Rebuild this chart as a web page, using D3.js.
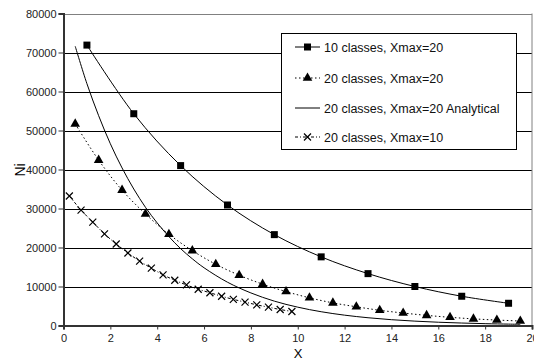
<!DOCTYPE html>
<html><head><meta charset="utf-8">
<script src="https://cdn.jsdelivr.net/npm/d3@7"></script>
<style>body{margin:0;background:#fff}svg{display:block;font-family:"Liberation Sans",Arial,sans-serif}</style>
</head><body><svg id="c" width="534" height="360"></svg>
<script>
const seriesNames = ["10 classes, Xmax=20","20 classes, Xmax=20","20 classes, Xmax=20 Analytical","20 classes, Xmax=10"];
const xs10 = [1,3,5,7,9,11,13,15,17,19];
const ys10 = [71900,54300,41000,30900,23300,17600,13300,10000,7500,5700];
const xs20 = [0.5,1.5,2.5,3.5,4.5,5.5,6.5,7.5,8.5,9.5,10.5,11.5,12.5,13.5,14.5,15.5,16.5,17.5,18.5,19.5];
const ys20 = [51700,42400,34700,28600,23400,19200,15700,12900,10600,8700,7100,5800,4800,3900,3200,2600,2100,1700,1400,1150];
const xsAn = [0.5,1,1.5,2,2.5,3,3.5,4,4.5,5,5.5,6,7,8,9,10,11,12,13,14,15,16,17,18,19,19.5];
const ysAn = [71600,62000,53800,46600,40400,35000,30300,26300,22800,19700,17100,14800,11100,8350,6250,4700,3530,2650,1990,1490,1120,840,630,470,355,310];
const xs10m = [0.25,0.75,1.25,1.75,2.25,2.75,3.25,3.75,4.25,4.75,5.25,5.75,6.25,6.75,7.25,7.75,8.25,8.75,9.25,9.75];
const ys10m = [33200,29600,26500,23500,20900,18600,16500,14700,13000,11600,10400,9300,8400,7500,6700,6000,5300,4700,4100,3600];
const xTicks = [0,2,4,6,8,10,12,14,16,18,20];
const yTicks = [0,10000,20000,30000,40000,50000,60000,70000,80000];

const FF = "Liberation Sans, Arial, sans-serif";
const svg = d3.select("#c");
const L = 63.5, R = 532, T = 13.5, B = 325.5;
const x = d3.scaleLinear().domain([0,20]).range([L,R]);
const y = d3.scaleLinear().domain([0,80000]).range([B,T]);

// grid
svg.append("g").selectAll("line").data(yTicks.filter(v=>v>0)).join("line")
  .attr("x1",L).attr("x2",R).attr("y1",d=>Math.round(y(d))+0.5).attr("y2",d=>Math.round(y(d))+0.5)
  .attr("stroke",d=>d===80000?"#808080":"#000").attr("stroke-width",1);
svg.append("line").attr("x1",R).attr("x2",R).attr("y1",T).attr("y2",B).attr("stroke","#808080");

// axes
const yAx = svg.append("g").attr("transform",`translate(${L},0)`)
  .call(d3.axisLeft(y).tickValues(yTicks).tickFormat(d3.format("d")).tickSize(5).tickPadding(2));
const xAx = svg.append("g").attr("transform",`translate(0,${B})`)
  .call(d3.axisBottom(x).tickValues(xTicks).tickFormat(d3.format("d")).tickSize(4).tickPadding(5));
[yAx,xAx].forEach(g=>{
  g.select(".domain").attr("stroke","#333").attr("stroke-width",2);
  g.selectAll(".tick line").attr("stroke","#333");
  g.selectAll("text").attr("font-size",11).attr("fill","#222").attr("font-family",FF);
});

svg.append("text").attr("x",298).attr("y",357.5).attr("text-anchor","middle").attr("font-size",13).attr("font-family",FF).text("X");
svg.append("text").attr("transform","translate(25,170) rotate(-90)").attr("text-anchor","middle").attr("font-size",14).attr("font-family",FF).text("Ni");

const line = d3.line().x(d=>x(d[0])).y(d=>y(d[1])).curve(d3.curveCatmullRom.alpha(0.5));
const zip = (a,b)=>a.map((v,i)=>[v,b[i]]);
const d10 = zip(xs10,ys10), d20 = zip(xs20,ys20), dAn = zip(xsAn,ysAn), d10m = zip(xs10m,ys10m);

svg.append("path").attr("d",line(dAn)).attr("fill","none").attr("stroke","#000").attr("stroke-width",1);
svg.append("path").attr("d",line(d10)).attr("fill","none").attr("stroke","#000").attr("stroke-width",1);
svg.append("path").attr("d",line(d20)).attr("fill","none").attr("stroke","#000").attr("stroke-width",1).attr("stroke-dasharray","1.5,2.5");
svg.append("path").attr("d",line(d10m)).attr("fill","none").attr("stroke","#000").attr("stroke-width",1).attr("stroke-dasharray","3,2,1,2");

const sq = d3.symbol().type(d3.symbolSquare).size(49);
const tri = d3.symbol().type(d3.symbolTriangle).size(40);
svg.append("g").selectAll("path").data(d10).join("path").attr("d",sq)
  .attr("transform",d=>`translate(${x(d[0])},${y(d[1])})`).attr("fill","#000");
svg.append("g").selectAll("path").data(d20).join("path").attr("d",tri)
  .attr("transform",d=>`translate(${x(d[0])},${y(d[1])})`).attr("fill","#000");
const cross = g => g.append("path").attr("d","M-3.5,-3.5L3.5,3.5M-3.5,3.5L3.5,-3.5").attr("stroke","#000").attr("stroke-width",1.2).attr("fill","none");
svg.append("g").selectAll("g").data(d10m).join("g")
  .attr("transform",d=>`translate(${x(d[0])},${y(d[1])})`).call(cross);

// legend
const lg = svg.append("g");
lg.append("rect").attr("x",281.5).attr("y",33.5).attr("width",235).attr("height",116).attr("fill","#fff").attr("stroke","#000");
const ly = [47,78,108,137];
const dashes = [null,"1.5,2.5",null,"3,2,1,2"];
seriesNames.forEach((n,i)=>{
  lg.append("line").attr("x1",295).attr("x2",320).attr("y1",ly[i]).attr("y2",ly[i]).attr("stroke","#000").attr("stroke-dasharray",dashes[i]);
  lg.append("text").attr("x",324).attr("y",ly[i]+4.5).attr("font-size",12.5).attr("font-family",FF).attr("fill","#111").text(n);
});
lg.append("path").attr("d",sq).attr("transform",`translate(307.5,${ly[0]})`).attr("fill","#000");
lg.append("path").attr("d",tri).attr("transform",`translate(307.5,${ly[1]})`).attr("fill","#000");
lg.append("g").attr("transform",`translate(307.5,${ly[3]})`).call(cross);
</script></body></html>
